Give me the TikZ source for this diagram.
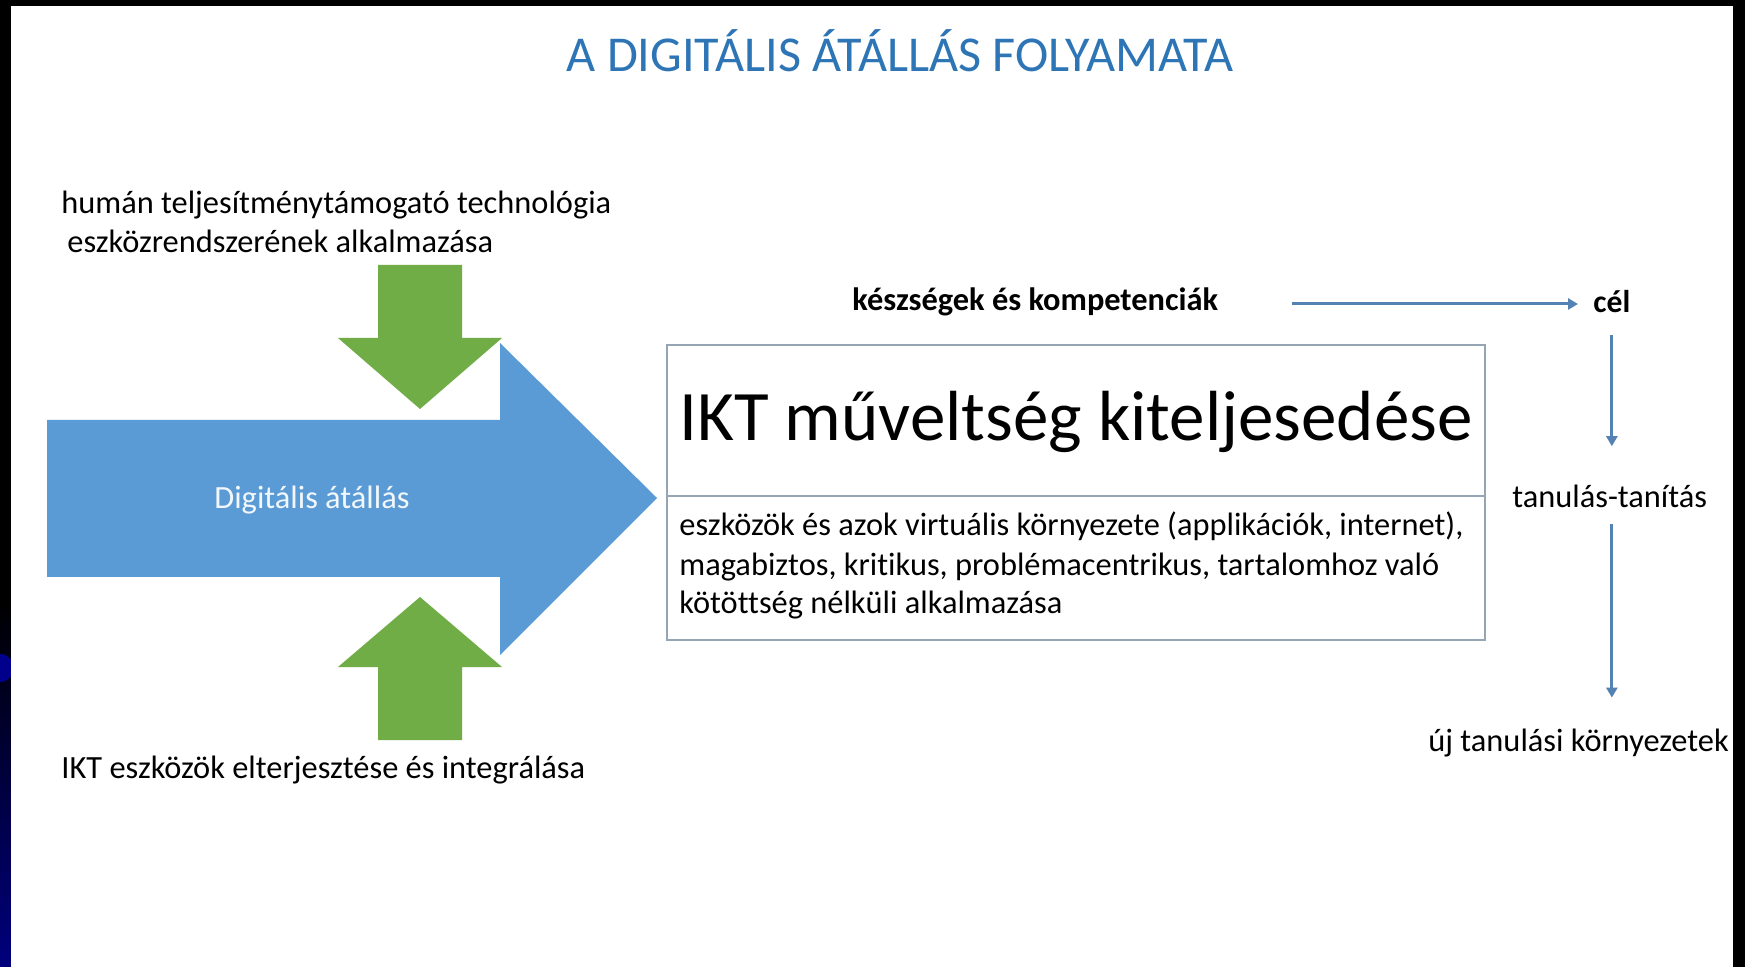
\documentclass[tikz,border=0pt]{standalone}
\usepackage{fontspec}
\setmainfont{Carlito}[Ligatures=NoCommon]
\usetikzlibrary{arrows.meta}

\definecolor{titleblue}{RGB}{46,117,182}
\definecolor{arrowblue}{RGB}{91,155,213}
\definecolor{arrowgreen}{RGB}{112,173,71}
\definecolor{linkblue}{RGB}{84,130,178}
\definecolor{boxgray}{RGB}{150,165,180}
\definecolor{navyblue}{RGB}{0,0,125}

\begin{document}
\begin{tikzpicture}[x=0.5pt, y=-0.5pt,
    lbl/.style={inner sep=0pt, anchor=base west, text height=10pt, text depth=3pt,
        font=\fontsize{16.2pt}{19pt}\selectfont},
    flow/.style={draw=linkblue, line width=1.5pt, -{Triangle[length=5pt, width=5.5pt]}},
    bigarrow/.style={fill=arrowblue},
    greenarrow/.style={fill=arrowgreen}]

    % frame of the slide
    \fill[black] (0,0) rectangle (1745,967);
    \shade[top color=black, bottom color=navyblue] (0,600) rectangle (11,967);
    \begin{scope}
        \clip (0,0) rectangle (11,967);
        \fill[blue!55!black] (0,668) circle (14);
    \end{scope}
    \fill[white] (11,6) rectangle (1733,967);

    \node[anchor=base, text=titleblue, inner sep=0pt,
          font=\fontsize{25.1pt}{29pt}\selectfont] (title) at (900,72) {A DIGITÁLIS ÁTÁLLÁS FOLYAMATA};

    % arrows on the left
    \fill[bigarrow] (47,420) -- (500,420) -- (500,343) -- (657,498) -- (500,655) -- (500,577) -- (47,577) -- cycle;
    \fill[greenarrow] (378,265) -- (462,265) -- (462,338) -- (502,338) -- (420,409) -- (338,338) -- (378,338) -- cycle;
    \fill[greenarrow] (378,740) -- (462,740) -- (462,667) -- (502,667) -- (420,597) -- (338,667) -- (378,667) -- cycle;

    \node[lbl, text=white!92!arrowblue] (digit) at (214,509) {Digitális átállás};
    \node[lbl] (human1) at (61,214) {humán teljesítménytámogató technológia};
    \node[lbl] (human2) at (67,253) {eszközrendszerének alkalmazása};
    \node[lbl] (ikteszk) at (61,778) {IKT eszközök elterjesztése és integrálása};

    % the box
    \draw[boxgray, line width=1pt] (667,345) rectangle (1485,640);
    \draw[boxgray, line width=1pt] (667,496) -- (1485,496);
    \node[lbl, font=\fontsize{35.5pt}{40pt}\selectfont] (ikt) at (679,441) {IKT műveltség kiteljesedése};
    \node[lbl] (body1) at (679,536) {eszközök és azok virtuális környezete (applikációk, internet),};
    \node[lbl] (body2) at (679,575) {magabiztos, kritikus, problémacentrikus, tartalomhoz való};
    \node[lbl] (body3) at (679,613) {kötöttség nélküli alkalmazása};

    % right side
    \node[lbl, font=\bfseries\fontsize{16.2pt}{19pt}\selectfont] (ksz) at (852,311) {készségek és kompetenciák};
    \node[lbl, font=\bfseries\fontsize{15.8pt}{19pt}\selectfont] (cel) at (1593,313) {cél};
    \node[lbl] (tanulas) at (1512,508) {tanulás-tanítás};
    \node[lbl] (ujtan) at (1428,751) {új tanulási környezetek};

    \draw[flow] ([xshift=36.5pt]ksz.east) -- ([xshift=-7.5pt]ksz.east -| cel.west);
    \draw[flow, shorten <=8pt, shorten >=20.7pt] (cel.south) -- (cel.south |- tanulas.north);
    \draw[flow, shorten <=5pt, shorten >=16.5pt] (cel.south |- tanulas.south) -- (cel.south |- ujtan.north);
\end{tikzpicture}
\end{document}
